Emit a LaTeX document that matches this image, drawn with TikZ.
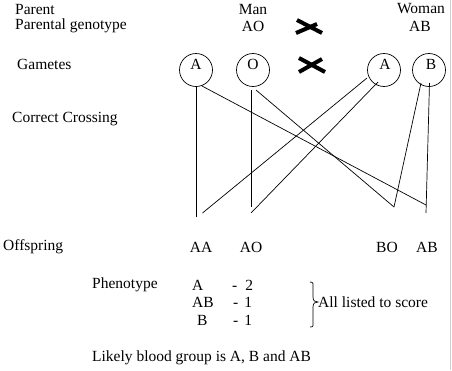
\documentclass[tikz,border=0pt]{standalone}
\usepackage{fontspec}
\setmainfont{Liberation Serif}
\usetikzlibrary{calc}
\begin{document}
\begin{tikzpicture}[x=1pt,y=-1pt,
  txt/.style={inner sep=0pt,font=\fontsize{15.5}{18}\selectfont},
  lt/.style={txt,anchor=west},
  gam/.style={draw,circle,minimum size=33pt,inner sep=0pt,line width=0.7pt},
  link/.style={line width=0.7pt},
  crossmark/.style={line width=4pt}]
\useasboundingbox (0,0) rectangle (452,370);
\fill[white] (0,0) rectangle (452,370);
\draw[black!18,line width=1pt] (450.5,0) -- (450.5,370);
% headings
\node[lt] (parent) at (15,9) {Parent};
\node[txt] (man) at (253,9) {Man};
\node[txt] (woman) at (421,9) {Woman};
\node[lt] (pg) at (15,26) {Parental genotype};
\node[txt] (ao) at (253,26) {AO};
\node[txt] (ab) at (420,26) {AB};
\node[lt] (gametes) at (17,64) {Gametes};
\node[lt] (cc) at (12,119) {Correct Crossing};
% cross marks
\coordinate (x1) at (309,27);
\draw[crossmark] ($(x1)+(-12,-7)$) -- ($(x1)+(13,6)$);
\draw[crossmark] ($(x1)+(-13,6)$) -- ($(x1)+(8,-3)$);
\coordinate (x2) at (312,65);
\draw[crossmark] ($(x2)+(-13,-7)$) -- ($(x2)+(13,7)$);
\draw[crossmark] ($(x2)+(-13,7)$) -- ($(x2)+(10,-6)$);
% gametes
\node[gam] (gA) at (196,70) {};
\node[txt] (tA) at (196,64) {A};
\node[gam] (gO) at (253,70) {};
\node[txt] (tO) at (253,64) {O};
\node[gam] (gA2) at (384,70) {};
\node[txt] (tA2) at (385,64) {A};
\node[gam] (gB) at (429,70) {};
\node[txt] (tB) at (431,64) {B};
% junction ends
\coordinate (eAAv) at (196,217);
\coordinate (eAAd) at (202.5,213);
\coordinate (eAOv) at (251,207);
\coordinate (eAOd) at (251,213);
\coordinate (eBO) at (394,207);
\coordinate (eABd) at (426,205);
\coordinate (eABv) at (426,213);
% connectors
\draw[link] (gA.south) -- (eAAv);
\draw[link] ($(gA)+(6,16)$) -- (eABd);
\draw[link] ($(gO)+(-2,20)$) -- (eAOv);
\draw[link] ($(gO)+(3,20)$) -- (eBO);
\draw[link] ($(gA2)+(-17,8)$) -- (eAAd);
\draw[link] ($(gA2)+(-6,12)$) -- (eAOd);
\draw[link] ($(gB)+(-8,13)$) -- (eBO);
\draw[link] ($(gB)+(0.5,13)$) -- (eABv);
% offspring
\node[lt] (off) at (3,247) {Offspring};
\node[txt] (oAA) at (201,247) {AA};
\node[txt] (oAO) at (251,247) {AO};
\node[txt] (oBO) at (387,247) {BO};
\node[txt] (oAB) at (427,247) {AB};
% phenotype
\node[lt] (ph) at (92,285) {Phenotype};
\node[lt] (p1) at (192,285) {A};
\node[lt] (p2) at (192,302) {AB};
\node[lt] (p3) at (197,320) {B};
\node[lt] (n1) at (232,285) {-\hspace{8pt}2};
\node[lt] (n2) at (233,302) {-\hspace{6pt}1};
\node[lt] (n3) at (233,320) {-\hspace{6pt}1};
\draw[line width=0.7pt] (310,282) .. controls (314,282) and (313,284) .. (313,290)
  -- (313,297) .. controls (313,301) and (315,302) .. (318,302)
  .. controls (315,302) and (313,303) .. (313,307)
  -- (313,321) .. controls (313,326) and (314,327) .. (310,327);
\node[lt] (all) at (318,302) {All listed to score};
\node[lt] (likely) at (92,358) {Likely blood group is A, B and AB};
\end{tikzpicture}
\end{document}
